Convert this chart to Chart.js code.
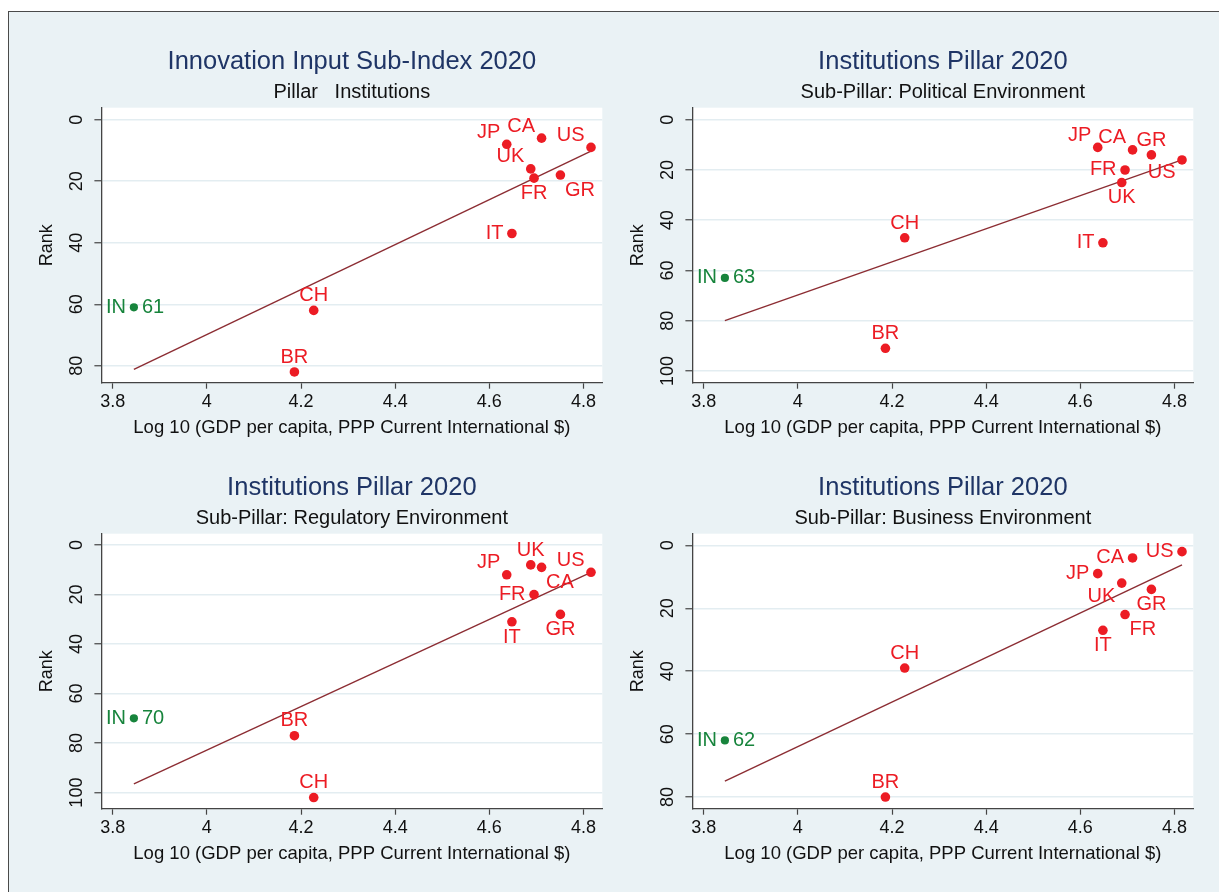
<!DOCTYPE html>
<html>
<head>
<meta charset="utf-8">
<script src="https://cdn.jsdelivr.net/npm/chart.js@4.4.1/dist/chart.umd.min.js"></script>
<style>
  html, body { margin: 0; padding: 0; background: #fff; overflow: hidden; }
  body { width: 1219px; height: 892px; position: relative; }
  #frame { position: absolute; left: 8px; top: 11px; width: 1300px; height: 1000px;
           border: 1.5px solid #4a4a4a; background: #eaf2f5; }
  canvas { position: absolute; }
</style>
</head>
<body>
<div id="frame"></div>
<canvas id="panel1" width="704" height="446" style="left:0px;top:0px"></canvas>
<canvas id="panel2" width="704" height="446" style="left:591.4px;top:0px"></canvas>
<canvas id="panel3" width="704" height="446" style="left:0px;top:425.5px"></canvas>
<canvas id="panel4" width="704" height="446" style="left:591.4px;top:425.5px"></canvas>
<script>
// data
var countries = ['IN', 'BR', 'CH', 'JP', 'IT', 'UK', 'FR', 'CA', 'GR', 'US']
var logGdp = [3.845, 4.186, 4.227, 4.637, 4.648, 4.688, 4.695, 4.711, 4.751, 4.816]
var rankInput = [61, 82, 62, 8, 37, 16, 19, 6, 18, 9]
var rankPolitical = [63, 91, 47, 11, 49, 25, 20, 12, 14, 16]
var rankRegulatory = [70, 77, 102, 12, 31, 8, 20, 9, 28, 11]
var rankBusiness = [62, 80, 39, 9, 27, 12, 22, 4, 14, 2]

// fitted line end points
var fitX = [3.845, 4.816]
var fitInput = [81.2, 10.2]
var fitPolitical = [80.0, 16.0]
var fitRegulatory = [96.5, 11.0]
var fitBusiness = [74.9, 6.2]

var xTicks = [3.8, 4, 4.2, 4.4, 4.6, 4.8]
var yTicks80 = [0, 20, 40, 60, 80]
var yTicks100 = [0, 20, 40, 60, 80, 100]

// where each marker label sits (same order as countries)
var labelsInput = ['we', 'n', 'n', 'nw', 'w', 'nw', 's', 'nw', 'se', 'nw']
var labelsPolitical = ['we', 'n', 'n', 'nw', 'w', 's', 'w', 'nw', 'n', 'sw']
var labelsRegulatory = ['we', 'n', 'n', 'nw', 's', 'n', 'w', 'se', 's', 'nw']
var labelsBusiness = ['we', 'n', 'n', 'w', 's', 'sw', 'se', 'w', 's', 'w']

var RED = '#ec1c24'
var GREEN = '#17843c'
var FONT = "'Liberation Sans', Arial, Helvetica, sans-serif"

Chart.defaults.font.family = FONT
Chart.defaults.color = '#111'

// white plot region
var plotBackground = {
  id: 'plotBackground',
  beforeDraw: function (chart) {
    var a = chart.chartArea
    var ctx = chart.ctx
    ctx.save()
    ctx.fillStyle = '#ffffff'
    ctx.fillRect(a.left, a.top, a.right - a.left, a.bottom - a.top)
    ctx.restore()
  }
}

// stata-like marker labels
var countryLabels = {
  id: 'countryLabels',
  afterDatasetsDraw: function (chart, args, opts) {
    var ctx = chart.ctx
    var meta = chart.getDatasetMeta(1)
    var ranks = chart.data.datasets[1].data
    ctx.save()
    ctx.font = '20px ' + FONT
    ctx.textBaseline = 'middle'
    meta.data.forEach(function (pt, i) {
      var pos = opts.positions[i]
      var x = pt.x
      var y = pt.y
      ctx.fillStyle = countries[i] === 'IN' ? GREEN : RED
      if (pos === 'we') {
        ctx.textAlign = 'right'
        ctx.fillText(countries[i], x - 8, y)
        ctx.textAlign = 'left'
        ctx.fillText(String(ranks[i].y), x + 8, y)
        return
      }
      var dx = 0, dy = 0, align = 'center'
      if (pos === 'n') { dy = -14.7 }
      if (pos === 's') { dy = 15.3 }
      if (pos === 'w') { dx = -8.5; align = 'right' }
      if (pos === 'e') { dx = 8.5; align = 'left' }
      if (pos === 'nw') { dx = -6.5; dy = -12; align = 'right' }
      if (pos === 'sw') { dx = -6.5; dy = 13; align = 'right' }
      if (pos === 'se') { dx = 4.5; dy = 15; align = 'left' }
      ctx.textAlign = align
      ctx.fillText(countries[i], x + dx, y + dy)
    })
    ctx.restore()
  }
}

function buildPanel (id, title, subtitle, ranks, fitY, yMin, yMax, yTicks, positions) {
  var yTickPad = yTicks[yTicks.length - 1] >= 100 ? 2 : 7
  return new Chart(document.getElementById(id).getContext('2d'), {
    type: 'scatter',
    data: {
      datasets: [
        {
          label: 'fit',
          data: fitX.map(function (x, i) { return { x: x, y: fitY[i] } }),
          showLine: true,
          borderColor: '#8c2d33',
          borderWidth: 1.4,
          pointRadius: 0,
          order: 1
        },
        {
          label: 'rank',
          data: countries.map(function (c, i) { return { x: logGdp[i], y: ranks[i] } }),
          pointBackgroundColor: countries.map(function (c) { return c === 'IN' ? GREEN : RED }),
          pointBorderWidth: 0,
          pointRadius: countries.map(function (c) { return c === 'IN' ? 4.1 : 4.8 }),
          order: 0
        }
      ]
    },
    options: {
      responsive: false,
      animation: false,
      devicePixelRatio: 1,
      layout: { padding: { left: 0, right: 101.7, top: 0, bottom: 0 } },
      plugins: {
        legend: { display: false },
        tooltip: { enabled: false },
        title: {
          display: true,
          fullSize: false,
          text: title,
          color: '#1f3566',
          font: { size: 25.5, weight: 'normal', lineHeight: 1.2 },
          padding: { top: 47, bottom: 0 }
        },
        subtitle: {
          display: true,
          fullSize: false,
          text: subtitle,
          color: '#111',
          font: { size: 20, weight: 'normal', lineHeight: 1.2 },
          padding: { top: 3, bottom: 3.1 }
        },
        countryLabels: { positions: positions }
      },
      scales: {
        x: {
          type: 'linear',
          min: 3.776,
          max: 4.84,
          afterBuildTicks: function (scale) {
            scale.ticks = xTicks.map(function (v) { return { value: v } })
          },
          afterFit: function (scale) { scale.height = 63.3 },
          ticks: {
            autoSkip: false,
            maxRotation: 0,
            padding: 2.2,
            color: '#111',
            font: { size: 18, lineHeight: 1.2 },
            callback: function (v) { return String(v) }
          },
          grid: { drawOnChartArea: false, drawTicks: true, tickLength: 6, tickColor: '#444', tickWidth: 1.2 },
          border: { display: true, color: '#444', width: 1.3 },
          title: {
            display: true,
            text: 'Log 10 (GDP per capita, PPP Current International $)',
            color: '#111',
            font: { size: 18.5, lineHeight: 1.2 },
            padding: { top: 0, bottom: 7.2 }
          }
        },
        y: {
          type: 'linear',
          reverse: true,
          min: yMin,
          max: yMax,
          afterBuildTicks: function (scale) {
            scale.ticks = yTicks.map(function (v) { return { value: v } })
          },
          afterFit: function (scale) { scale.width = 101.4 },
          ticks: {
            autoSkip: false,
            minRotation: 90,
            maxRotation: 90,
            crossAlign: 'center',
            padding: yTickPad,
            color: '#111',
            font: { size: 18, lineHeight: 1.2 },
            callback: function (v) { return String(v) }
          },
          grid: { color: '#e3edf1', lineWidth: 1.5, drawTicks: true, tickLength: 7, tickColor: '#444', tickWidth: 1.2 },
          border: { display: true, color: '#444', width: 1.3 },
          title: {
            display: true,
            text: 'Rank',
            color: '#111',
            font: { size: 18, lineHeight: 1.2 },
            padding: { top: 36, bottom: 0 }
          }
        }
      }
    },
    plugins: [plotBackground, countryLabels]
  })
}

buildPanel('panel1', 'Innovation Input Sub-Index 2020', 'Pillar   Institutions',
  rankInput, fitInput, -3.9, 85.5, yTicks80, labelsInput)
buildPanel('panel2', 'Institutions Pillar 2020', 'Sub-Pillar: Political Environment',
  rankPolitical, fitPolitical, -4.8, 104.7, yTicks100, labelsPolitical)
buildPanel('panel3', 'Institutions Pillar 2020', 'Sub-Pillar: Regulatory Environment',
  rankRegulatory, fitRegulatory, -4.6, 106.5, yTicks100, labelsRegulatory)
buildPanel('panel4', 'Institutions Pillar 2020', 'Sub-Pillar: Business Environment',
  rankBusiness, fitBusiness, -3.7, 83.7, yTicks80, labelsBusiness)
</script>
</body>
</html>
